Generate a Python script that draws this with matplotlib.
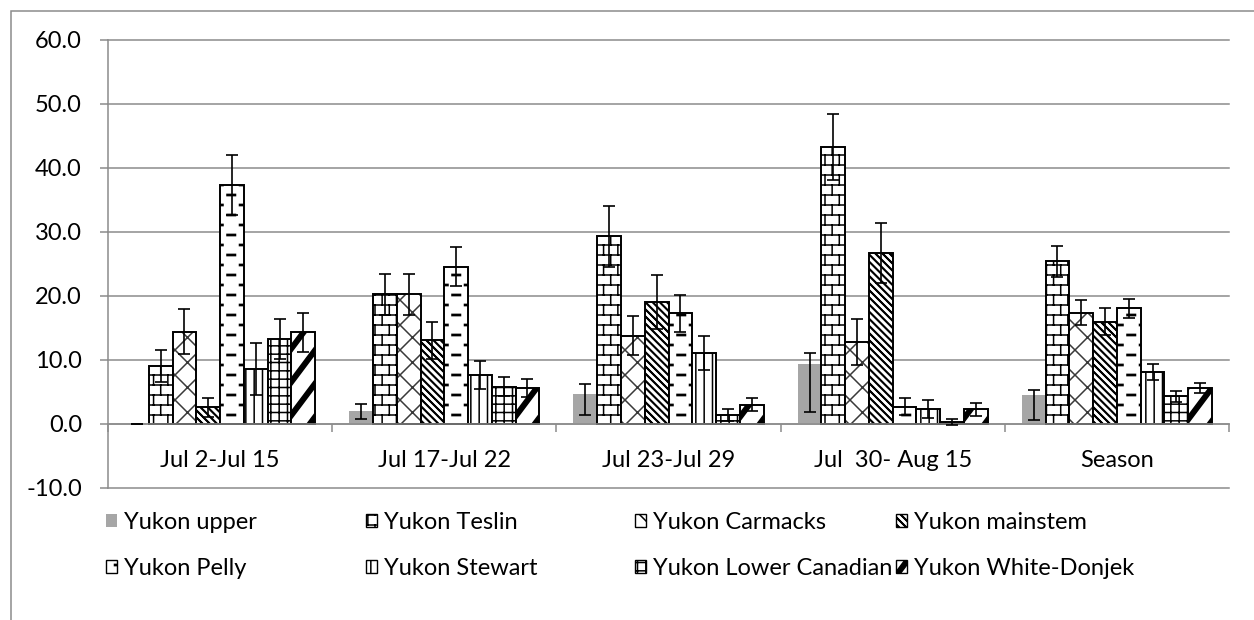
import warnings
import numpy as np
import matplotlib
matplotlib.use('Agg')
import matplotlib.pyplot as plt
import matplotlib.hatch as mhatch
from matplotlib.path import Path
from matplotlib.patches import Patch, Rectangle

warnings.filterwarnings('ignore')

categories = ['Jul 2-Jul 15', 'Jul 17-Jul 22', 'Jul 23-Jul 29', 'Jul  30- Aug 15', 'Season']
series = ['Yukon upper', 'Yukon Teslin', 'Yukon Carmacks', 'Yukon mainstem',
          'Yukon Pelly', 'Yukon Stewart', 'Yukon Lower Canadian', 'Yukon White-Donjek']

upper = [0.0, 2.1, 4.7, 9.3, 4.5]
upper_err_lo = [0.0, 1.3, 3.3, 7.5, 3.9]
upper_err_hi = [0.0, 1.0, 1.5, 1.8, 0.8]
teslin = [9.1, 20.3, 29.3, 43.3, 25.4]
teslin_err = [2.5, 3.2, 4.7, 5.1, 2.4]
carmacks = [14.4, 20.3, 13.8, 12.8, 17.4]
carmacks_err = [3.5, 3.2, 3.0, 3.6, 2.0]
mainstem = [2.6, 13.1, 19.1, 26.7, 16.0]
mainstem_err = [1.5, 2.9, 4.2, 4.7, 2.1]
pelly = [37.3, 24.6, 17.3, 2.7, 18.1]
pelly_err = [4.7, 3.1, 2.9, 1.3, 1.5]
stewart = [8.6, 7.7, 11.1, 2.3, 8.1]
stewart_err = [4.0, 2.2, 2.6, 1.4, 1.3]
lower_can = [13.3, 5.8, 1.4, 0.3, 4.3]
lower_can_err = [3.1, 1.5, 1.0, 0.5, 0.9]
white_donjek = [14.3, 5.6, 3.0, 2.3, 5.6]
white_donjek_err = [3.0, 1.4, 1.0, 1.0, 0.8]

# ---- extra hatch tiles (excel-like patterns), unit cell = 1 inch ----
MOVE, LINE, CLOSE = Path.MOVETO, Path.LINETO, Path.CLOSEPOLY


def seg_tile(segs):
    v = np.array(segs, float).reshape(-1, 2)
    c = np.tile([MOVE, LINE], len(segs))
    return v, c


def poly_tile(polys):
    v, c = [], []
    for p in polys:
        v += list(p) + [p[0]]
        c += [MOVE] + [LINE] * (len(p) - 1) + [CLOSE]
    return np.array(v, float), np.array(c)


def brick_tile(rows=10, cols=7):
    h = 1 / rows
    segs = []
    for r in range(rows):
        y = (r + 0.5) * h
        segs.append([(0, y), (1, y)])
    for r in range(-1, rows):
        y = (r + 0.5) * h
        off = (0.5 / cols if r % 2 else 0) + 0.25 / cols
        for k in range(cols):
            x = k / cols + off
            segs.append([(x, y), (x, y + h)])
    return seg_tile(segs)


def dash_tile(rows=10, per=4, length=0.085, thick=0.012):
    polys = []
    for r in range(rows):
        y = (r + 0.5) / rows
        off = 0.5 / per if r % 2 else 0
        for k in range(per):
            x0 = k / per + off + 0.02
            polys.append([(x0, y - thick / 2), (x0 + length, y - thick / 2),
                          (x0 + length, y + thick / 2), (x0, y + thick / 2)])
    return poly_tile(polys)


def stripe_tile(n, w, shift, down=False):
    polys = []
    for k in range(-2 * n - 2, n + 2):
        a = k / n
        if down:
            polys.append([(a, 1), (a + w, 1), (a + w + shift, 0), (a + shift, 0)])
        else:
            polys.append([(a, 0), (a + w, 0), (a + w + shift, 1), (a + shift, 1)])
    return poly_tile(polys)


def diamond_tile(n=4):
    segs = []
    for k in range(-n - 1, n + 1):
        a = k / n
        segs.append([(a, 0), (a + 1, 1)])
        segs.append([(a, 1), (a + 1, 0)])
    return seg_tile(segs)


TILES = {
    'B': brick_tile(),
    'P': dash_tile(),
    'C': diamond_tile(),
    'M': stripe_tile(14, 0.008, 1.0, down=True),
    'W': stripe_tile(4, 0.055, 0.75),
}


class TileHatch(mhatch.HatchPatternBase):
    def __init__(self, hatch, density):
        self.parts = [TILES[ch] for ch in TILES if ch in hatch]
        self.num_vertices = sum(len(v) for v, _ in self.parts)

    def set_vertices_and_codes(self, vertices, codes):
        i = 0
        for v, c in self.parts:
            vertices[i:i + len(v)] = v
            codes[i:i + len(v)] = c
            i += len(v)


mhatch._hatch_types.append(TileHatch)

plt.rcParams['font.family'] = ['Lato', 'DejaVu Sans']
plt.rcParams['hatch.linewidth'] = 1.1

values = [upper, teslin, carmacks, mainstem, pelly, stewart, lower_can, white_donjek]
errors = [[upper_err_lo, upper_err_hi], teslin_err, carmacks_err, mainstem_err,
          pelly_err, stewart_err, lower_can_err, white_donjek_err]
hatches = [None, 'B', 'C', 'M', 'P', '||', '++', 'W']

W, H = 1254, 620
fig = plt.figure(figsize=(W / 100, H / 100), dpi=100)
ax = fig.add_axes([108 / W, (H - 488) / H, (1229 - 108) / W, (488 - 40) / H])

x = np.arange(len(categories))
bw = 0.106
grid_c = '#8c8c8c'

for i, (name, vals, err, h) in enumerate(zip(series, values, errors, hatches)):
    xs = x + (i - 3.5) * bw
    if i == 0:
        ax.bar(xs, vals, bw, color='#a6a6a6', edgecolor='#a6a6a6', linewidth=0, zorder=2)
    elif h == 'C':
        ax.bar(xs, vals, bw, color='white', edgecolor='#3a3a3a', linewidth=0, hatch=h, zorder=2)
        ax.bar(xs, vals, bw, fill=False, edgecolor='black', linewidth=1.4, zorder=2)
    else:
        ax.bar(xs, vals, bw, color='white', edgecolor='black', linewidth=1.4, hatch=h, zorder=2)
    ax.errorbar(xs, vals, yerr=err, fmt='none', ecolor='black', elinewidth=1.2,
                capsize=4, capthick=1.2, zorder=3)

ax.set_xlim(-0.5, len(categories) - 0.5)
ax.set_ylim(-10, 60)
ax.set_yticks(np.arange(-10, 61, 10))
ax.set_yticklabels(['%.1f' % v for v in np.arange(-10, 61, 10)])
ax.yaxis.grid(True, color=grid_c, linewidth=1.1)
ax.set_axisbelow(True)
for gl in ax.get_ygridlines():
    gl.set_clip_on(False)

ax.set_xticks(x)
ax.set_xticklabels(categories)
ax.set_xticks(np.arange(-0.5, len(categories)), minor=True)
ax.tick_params(axis='x', which='major', length=0, pad=19, labelsize=17)
ax.tick_params(axis='x', which='minor', length=5.8, width=1.1, color=grid_c, direction='out')
ax.tick_params(axis='y', length=5.8, width=1.1, color=grid_c, pad=13, labelsize=17)

for s in ['top', 'right']:
    ax.spines[s].set_visible(False)
ax.spines['bottom'].set_position(('data', 0))
ax.spines['bottom'].set_color(grid_c)
ax.spines['bottom'].set_linewidth(1.1)
ax.spines['left'].set_color(grid_c)
ax.spines['left'].set_linewidth(1.1)

# legend: 4 columns, 2 rows, uniform column positions
handles = []
for i, h in enumerate(hatches):
    if i == 0:
        handles.append(Patch(facecolor='#a6a6a6', edgecolor='#a6a6a6', linewidth=0))
    else:
        handles.append(Patch(facecolor='white', edgecolor='black', linewidth=1.0, hatch=h))

col_x = [106, 366, 635, 896]
for c in range(4):
    idx = [c, c + 4]
    leg = fig.legend([handles[j] for j in idx], [series[j] for j in idx],
                     loc='upper left', bbox_to_anchor=(col_x[c] / W, 1 - 512 / H),
                     frameon=False, fontsize=17, handlelength=0.45, handleheight=0.45,
                     handletextpad=0.3, labelspacing=1.05, borderpad=0, borderaxespad=0)

fig.add_artist(Rectangle((11 / W, -0.1), 2, 1.1 - 11 / H, transform=fig.transFigure,
                         fill=False, edgecolor=grid_c, linewidth=1.1))

fig.savefig('out.png', dpi=100)
